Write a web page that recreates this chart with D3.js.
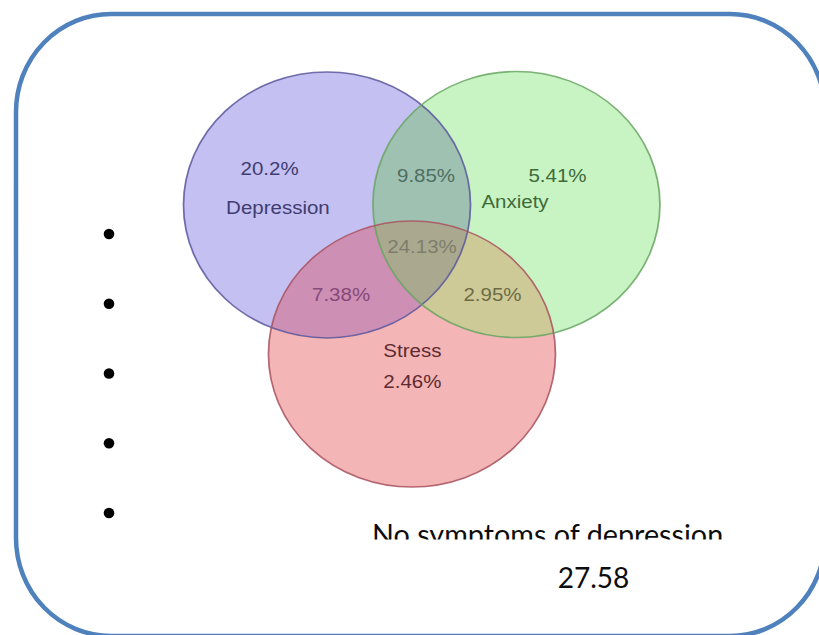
<!DOCTYPE html>
<html>
<head>
<meta charset="utf-8">
<script src="https://cdn.jsdelivr.net/npm/d3@7"></script>
<style>
  html, body { margin: 0; padding: 0; background: #fff; overflow: hidden; }
  svg { display: block; }
</style>
</head>
<body>
<svg id="chart" width="819" height="635"></svg>
<script>
// ---- data ----------------------------------------------------------------
const setKeys = ["A", "B", "C"];
const setNames = ["Depression", "Anxiety", "Stress"];
const regionKeys = ["A", "B", "C", "AB", "AC", "BC", "ABC"];
const regionValues = [20.2, 5.41, 2.46, 9.85, 7.38, 2.95, 24.13];
const noSymptomsLabel = "No symptoms of depression.";
const noSymptomsValue = 27.58;
const bulletCount = 5;

// ---- layout & style ------------------------------------------------------
const W = 819, H = 635;
const svg = d3.select("#chart");

// venn drawn in a unit space (radius 1), mapped to pixels by scales
const R = 133;                          // vertical radius in px
const stretchX = 1.079;                 // horizontal stretch of the drawing
const vennOrigin = { x: 420, y: 260 };
const sx = d3.scaleLinear().domain([-1, 1]).range([-R, R]);
const sy = d3.scaleLinear().domain([-1, 1]).range([-R, R]);

const circleLayout = {
  A: { x: -0.648, y: -0.414 },
  B: { x: 0.672, y: -0.417 },
  C: { x: -0.056, y: 0.707 }
};
const fillColor = {
  A: "#c4c0f1", B: "#c8f3c3", C: "#f3b5b6",
  AB: "#9fc1b2", AC: "#cd8fb4", BC: "#cdca97", ABC: "#aaa98f"
};
const strokeColor = { A: "#5a579c", B: "#67a560", C: "#a8525f" };

// label anchor points in unit space (x already un-stretched)
const valuePos = {
  A: [-1.048, -0.64], B: [0.958, -0.583], C: [-0.053, 0.962],
  AB: [0.042, -0.59], AC: [-0.55, 0.308], BC: [0.505, 0.305], ABC: [0.014, -0.053]
};
const namePos = { A: [-0.99, -0.346], B: [0.662, -0.391], C: [-0.053, 0.729] };
const valueColor = {
  A: "#3f3d70", B: "#3e6b39", C: "#5f2a31",
  AB: "#4e6f63", AC: "#86497a", BC: "#6d6b46", ABC: "#7e7d6c"
};

// rounded frame (right side runs just past the page edge)
svg.append("rect")
  .attr("x", 16).attr("y", 14)
  .attr("width", 809).attr("height", 622)
  .attr("rx", 95).attr("ry", 98)
  .attr("fill", "none")
  .attr("stroke", "#4f81bd")
  .attr("stroke-width", 4.5);

// bullets down the left side
const by = d3.scaleLinear().domain([0, bulletCount - 1]).range([234, 513]);
svg.append("g").selectAll("circle")
  .data(d3.range(bulletCount))
  .join("circle")
  .attr("cx", 109)
  .attr("cy", i => by(i))
  .attr("r", 5.3)
  .attr("fill", "#000");

// ---- venn ----------------------------------------------------------------
const venn = svg.append("g")
  .attr("transform", `translate(${vennOrigin.x},${vennOrigin.y}) scale(${stretchX},1)`);

const defs = svg.append("defs");
setKeys.forEach(k => {
  defs.append("clipPath").attr("id", "clip" + k)
    .append("circle")
    .attr("cx", sx(circleLayout[k].x))
    .attr("cy", sy(circleLayout[k].y))
    .attr("r", R);
});

function circleOf(parent, k) {
  return parent.append("circle")
    .attr("cx", sx(circleLayout[k].x))
    .attr("cy", sy(circleLayout[k].y))
    .attr("r", R);
}

// single-set areas
setKeys.forEach(k => circleOf(venn, k).attr("fill", fillColor[k]));
// pairwise overlaps
circleOf(venn, "B").attr("fill", fillColor.AB).attr("clip-path", "url(#clipA)");
circleOf(venn, "C").attr("fill", fillColor.AC).attr("clip-path", "url(#clipA)");
circleOf(venn, "C").attr("fill", fillColor.BC).attr("clip-path", "url(#clipB)");
// triple overlap
const gABC = venn.append("g").attr("clip-path", "url(#clipA)");
circleOf(gABC, "C").attr("fill", fillColor.ABC).attr("clip-path", "url(#clipB)");

// outlines
setKeys.forEach(k => circleOf(venn, k)
  .attr("fill", "none")
  .attr("stroke", strokeColor[k])
  .attr("stroke-opacity", 0.85)
  .attr("stroke-width", 1.6));

// labels
const labelFont = "'Liberation Sans', Arial, sans-serif";
regionKeys.forEach((k, i) => {
  venn.append("text")
    .attr("x", sx(valuePos[k][0]))
    .attr("y", sy(valuePos[k][1]))
    .attr("text-anchor", "middle")
    .attr("font-family", labelFont)
    .attr("font-size", 19)
    .attr("fill", valueColor[k])
    .text(regionValues[i] + "%");
});
setKeys.forEach((k, i) => {
  venn.append("text")
    .attr("x", sx(namePos[k][0]))
    .attr("y", sy(namePos[k][1]))
    .attr("text-anchor", "middle")
    .attr("font-family", labelFont)
    .attr("font-size", 19)
    .attr("fill", valueColor[k])
    .text(setNames[i]);
});

// ---- caption text box (lower part of the first line is cut by the box) ----
defs.append("clipPath").attr("id", "captionClip")
  .append("rect").attr("x", 340).attr("y", 500).attr("width", 420).attr("height", 39.5);

const captionFont = "Lato, 'Open Sans', sans-serif";
svg.append("text")
  .attr("x", 372).attr("y", 545)
  .attr("font-family", captionFont)
  .attr("font-size", 28)
  .attr("textLength", 358)
  .attr("lengthAdjust", "spacingAndGlyphs")
  .attr("fill", "#0d0d0d")
  .attr("clip-path", "url(#captionClip)")
  .text(noSymptomsLabel);

svg.append("text")
  .attr("x", 593.5).attr("y", 588)
  .attr("text-anchor", "middle")
  .attr("font-family", captionFont)
  .attr("font-size", 28)
  .attr("fill", "#0d0d0d")
  .text(noSymptomsValue);
</script>
</body>
</html>
